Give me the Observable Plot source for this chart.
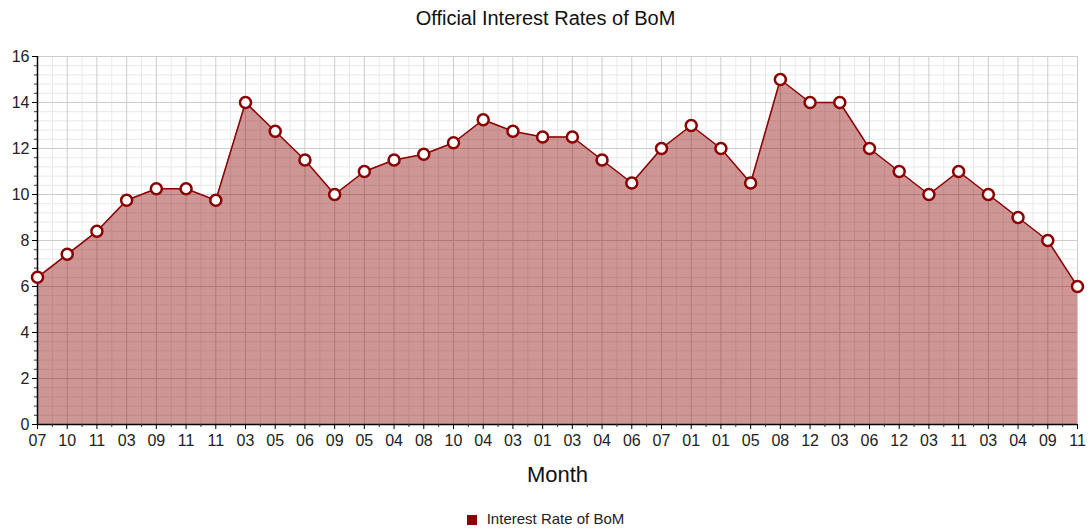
<!DOCTYPE html>
<html>
<head>
<meta charset="utf-8">
<script src="https://cdn.jsdelivr.net/npm/d3@7"></script>
<script src="https://cdn.jsdelivr.net/npm/@observablehq/plot@0.6"></script>
<style>
  body { margin: 0; background: #fff; font-family: "Liberation Sans", Arial, sans-serif; }
  #title { height: 40px; line-height: 36px; text-align: center; font-size: 20px; color: #111; }
  #legend { text-align: center; font-size: 15px; color: #222; margin-top: 20px; }
  #legend span.sw { display: inline-block; width: 10px; height: 10px; background: #8b0000; margin-right: 10px; vertical-align: -1px; }
  #chart svg { display: block; }
</style>
</head>
<body>
<div id="title">Official Interest Rates of BoM</div>
<div id="chart"></div>
<div id="legend"><span class="sw"></span>Interest Rate of BoM</div>
<script>
const monthLabels = ["07","10","11","03","09","11","11","03","05","06","09","05","04","08","10","04","03","01","03","04","06","07","01","01","05","08","12","03","06","12","03","11","03","04","09","11"];
const rates = [6.4,7.4,8.4,9.75,10.25,10.25,9.75,14,12.75,11.5,10,11,11.5,11.75,12.25,13.25,12.75,12.5,12.5,11.5,10.5,12,13,12,10.5,15,14,14,12,11,10,11,10,9,8,6];
const yMajor = [0,2,4,6,8,10,12,14,16];
const yMinor = d3.range(0, 41).map(k => +(k * 0.4).toFixed(1));

const data = rates.map((v, i) => ({i, v}));
const n = rates.length;
const xMajor = d3.range(n);
const xMinor = d3.range(n - 1).map(i => i + 0.5);
const red = "#8b0000";

const chart = Plot.plot({
  width: 1091,
  height: 450,
  marginTop: 16,
  marginBottom: 66,
  marginLeft: 37,
  marginRight: 14,
  style: {fontFamily: "'Liberation Sans', Arial, sans-serif", fontSize: "15px", color: "#222"},
  x: {type: "linear", domain: [0, n - 1], label: null},
  y: {domain: [0, 16], label: null},
  marks: [
    Plot.gridY(yMinor, {stroke: "#e8e8e8", strokeOpacity: 1}),
    Plot.gridX(xMinor, {stroke: "#e8e8e8", strokeOpacity: 1}),
    Plot.gridY(yMajor, {stroke: "#cccccc", strokeOpacity: 1}),
    Plot.gridX(xMajor, {stroke: "#cccccc", strokeOpacity: 1}),
    Plot.areaY(data, {x: "i", y: "v", fill: red, fillOpacity: 0.41}),
    Plot.lineY(data, {x: "i", y: "v", stroke: red, strokeWidth: 1.5}),
    Plot.ruleX([0], {stroke: "#000", strokeWidth: 1.5}),
    Plot.ruleY([0], {stroke: "#000", strokeWidth: 1.5}),
    Plot.axisY(yMinor, {tickSize: 3, text: null, label: null, stroke: "#333"}),
    Plot.axisY(yMajor, {tickSize: 5, tickPadding: 3, fontSize: 16, label: null, stroke: "#000", fill: "#222"}),
    Plot.axisX(xMinor, {tickSize: 3, text: null, label: null, stroke: "#333"}),
    Plot.axisX(xMajor, {tickSize: 5, tickPadding: 5, fontSize: 16, tickFormat: i => monthLabels[i], label: null, stroke: "#000", fill: "#222"}),
    Plot.text(["Month"], {frameAnchor: "bottom", dy: 57, fontSize: 22, fill: "#111"}),
    Plot.dot(data, {x: "i", y: "v", r: 5.5, fill: "#fff", stroke: red, strokeWidth: 2.5})
  ]
});
document.getElementById("chart").appendChild(chart);
</script>
</body>
</html>
